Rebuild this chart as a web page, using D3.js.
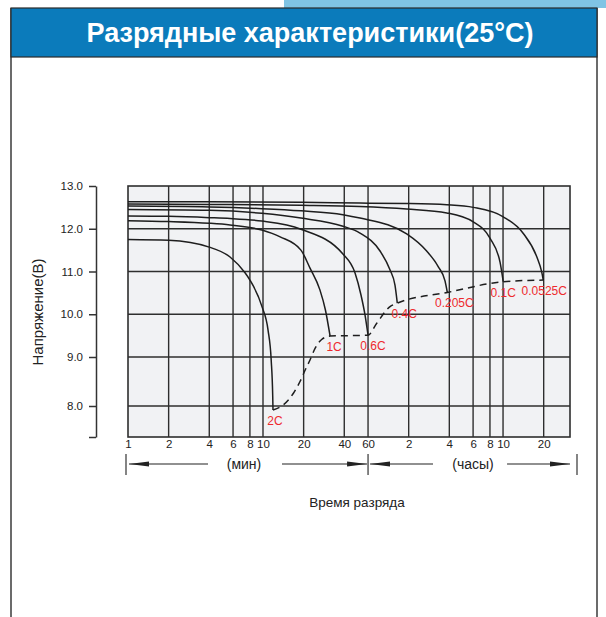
<!DOCTYPE html>
<html><head><meta charset="utf-8">
<script src="https://cdn.jsdelivr.net/npm/d3@7"></script>
<style>
body{margin:0;background:#fff;}
svg{display:block;font-family:"Liberation Sans",Arial,sans-serif;}
</style>
</head><body>
<svg id="chart" width="606" height="617"></svg>
<script>
// ---------- data ----------
const titleText = "Разрядные характеристики(25°C)";
const yAxisTitle = "Напряжение(В)";
const xAxisTitle = "Время разряда";
const minuteLabel = "(мин)";
const hourLabel = "(часы)";

// x ticks (values in minutes) and their printed labels
const xTickMinutes = [1,2,4,6,8,10,20,40,60,120,240,360,480,600,1200];
const xTickLabels  = ["1","2","4","6","8","10","20","40","60","2","4","6","8","10","20"];
const xDomain = [1, 1880];

// y ticks (volts)
const voltTicks = [8,9,10,11,12,13];
const voltBottom = 7.37;

// discharge rates
const rateLabels = ["2C","1C","0.6C","0.4C","0.205C","0.1C","0.0525C"];

// curves: time (minutes) / voltage (V)
const t2C = [1,2,4,5.7,7.36,8,9.8,10.9,11.5,11.8,11.86];
const v2C = [11.75,11.73,11.57,11.34,10.97,10.80,10.19,9.63,8.94,8.22,7.92];
const t1C = [1,2,4,5.7,9.8,13.4,19.1,22.3,26.4,29,31.4];
const v1C = [12.19,12.17,12.13,12.09,11.97,11.81,11.50,11.08,10.57,10.10,9.49];
const t06C = [1,2,4,5.7,9.8,19.1,39.1,48,53.2,57,60];
const v06C = [12.30,12.29,12.26,12.24,12.18,11.99,11.41,10.97,10.45,9.98,9.51];
const t04C = [1,4,9.8,19.1,39.1,52.3,73.6,87.2,95,98.8];
const v04C = [12.45,12.43,12.36,12.25,12.06,11.90,11.48,11.04,10.68,10.26];
const t0205C = [1,4,9.8,19.1,39.1,52.3,116,163,199,223,232];
const v0205C = [12.53,12.51,12.47,12.42,12.33,12.25,11.88,11.48,11.11,10.78,10.51];
const t01C = [1,4,19.1,52.3,116,230,361,480,570,602];
const v01C = [12.58,12.57,12.55,12.52,12.46,12.37,12.16,11.78,11.22,10.76];
const t00525C = [1,4,19.1,52.3,116,230,361,602,848,1065,1160,1192];
const v00525C = [12.63,12.63,12.62,12.60,12.59,12.56,12.50,12.28,11.89,11.35,10.99,10.80];

const curveTimes = [t2C,t1C,t06C,t04C,t0205C,t01C,t00525C];
const curveVolts = [v2C,v1C,v06C,v04C,v0205C,v01C,v00525C];

// end-of-discharge (dashed) line
const cutoffT = [11.86,14.1,16.8,18.8,20.5,22.3,24.3,27.2,31.4,60,69.6,87.3,98.8,232,602,1192];
const cutoffV = [7.92,8.02,8.26,8.50,8.73,8.94,9.20,9.41,9.49,9.51,9.79,10.18,10.26,10.51,10.76,10.80];

// ---------- layout ----------
const plot = {left:128, right:570, top:186, bottom:437};
const labelDx = [2,4,5,7,7,0,1];
const labelDy = 15;

const svg = d3.select("#chart");

// header
svg.append("rect").attr("x",284).attr("y",0).attr("width",322).attr("height",8).attr("fill","#80c4e4");
svg.append("line").attr("x1",11).attr("x2",11).attr("y1",8).attr("y2",617).attr("stroke","#3a3a3a").attr("stroke-width",1.5);
svg.append("line").attr("x1",597).attr("x2",597).attr("y1",8).attr("y2",617).attr("stroke","#3a3a3a").attr("stroke-width",1.5);
svg.append("rect").attr("x",11).attr("y",8).attr("width",586).attr("height",49)
  .attr("fill","#0b7bbb").attr("stroke","#2a2a2a").attr("stroke-width",1.2);
svg.append("text").attr("x",310).attr("y",42).attr("text-anchor","middle")
  .attr("fill","#fff").attr("font-weight","bold").attr("font-size",27).text(titleText);

// scales
const x = d3.scaleLog().domain(xDomain).range([plot.left, plot.right]);
const y = d3.scaleLinear().domain([voltBottom, 8, 9, 13]).range([plot.bottom, 406, 357, plot.top]);

// plot background
svg.append("rect").attr("x",plot.left).attr("y",plot.top)
  .attr("width",plot.right-plot.left).attr("height",plot.bottom-plot.top).attr("fill","#f1f2f4");

const gridColor = "#2e2e2e";
// vertical grid
svg.append("g").selectAll("line").data(xTickMinutes.slice(1)).join("line")
  .attr("x1",d=>x(d)).attr("x2",d=>x(d)).attr("y1",plot.top).attr("y2",plot.bottom)
  .attr("stroke",gridColor).attr("stroke-width",1.4);
// horizontal grid
svg.append("g").selectAll("line").data(voltTicks.filter(v=>v<13)).join("line")
  .attr("x1",plot.left).attr("x2",plot.right).attr("y1",d=>y(d)).attr("y2",d=>y(d))
  .attr("stroke",gridColor).attr("stroke-width",1.4);
// frame
svg.append("rect").attr("x",plot.left).attr("y",plot.top)
  .attr("width",plot.right-plot.left).attr("height",plot.bottom-plot.top)
  .attr("fill","none").attr("stroke",gridColor).attr("stroke-width",1.6);

// y axis
const yAxis = svg.append("g").attr("transform","translate(96,0)")
  .call(d3.axisLeft(y).tickValues([voltBottom, ...voltTicks]).tickSize(7).tickSizeOuter(0).tickPadding(6)
    .tickFormat(d => d < 8 ? "" : d3.format(".1f")(d)));
yAxis.selectAll("path,line").attr("stroke","#333").attr("stroke-width",1.5);
yAxis.selectAll("text").attr("font-size",11.5).attr("fill","#222").attr("font-family","Liberation Sans, Arial, sans-serif");

svg.append("text").attr("transform","translate(43,312) rotate(-90)")
  .attr("text-anchor","middle").attr("font-size",15).attr("fill","#222").text(yAxisTitle);

// x axis labels
const xAxis = svg.append("g").attr("transform",`translate(0,${plot.bottom})`)
  .call(d3.axisBottom(x).tickValues(xTickMinutes).tickSize(0).tickPadding(3)
    .tickFormat((d,i)=>xTickLabels[i]));
xAxis.select(".domain").remove();
xAxis.selectAll("text").attr("font-size",11.5).attr("fill","#222").attr("font-family","Liberation Sans, Arial, sans-serif");

// curves
const line = d3.line().x(d=>x(d[0])).y(d=>y(d[1])).curve(d3.curveMonotoneX);
const series = rateLabels.map((r,i)=>({rate:r, pts:curveTimes[i].map((t,j)=>[t,curveVolts[i][j]])}));
svg.append("g").selectAll("path").data(series).join("path")
  .attr("d",d=>line(d.pts)).attr("fill","none").attr("stroke","#1e1e1e").attr("stroke-width",1.5);

// cutoff dashed line
svg.append("path").attr("d",line(cutoffT.map((t,i)=>[t,cutoffV[i]])))
  .attr("fill","none").attr("stroke","#1e1e1e").attr("stroke-width",1.5).attr("stroke-dasharray","7,5");

// rate labels
svg.append("g").selectAll("text").data(series).join("text")
  .attr("x",(d,i)=>x(d.pts[d.pts.length-1][0])+labelDx[i])
  .attr("y",d=>y(d.pts[d.pts.length-1][1])+labelDy)
  .attr("text-anchor","middle").attr("font-size",12).attr("fill","#ee2a2e").text(d=>d.rate);

// unit arrows
const arrowY = 464;
svg.append("defs").append("marker").attr("id","ah").attr("viewBox","0 0 20 6")
  .attr("refX",20).attr("refY",3).attr("markerWidth",20).attr("markerHeight",6)
  .attr("markerUnits","userSpaceOnUse").attr("orient","auto")
  .append("path").attr("d","M0,0.5 L20,3 L0,5.5 Z").attr("fill","#222");
const barXs = [x(1)-2, x(60), plot.right+7];
svg.append("g").selectAll("line").data(barXs).join("line")
  .attr("x1",d=>d).attr("x2",d=>d).attr("y1",454).attr("y2",475)
  .attr("stroke","#333").attr("stroke-width",1.2);
const arrows = [[x(1)+80, x(1)+1],[x(1)+154, x(60)-1],[x(60)+65, x(60)+2],[x(60)+139, plot.right]];
svg.append("g").selectAll("line").data(arrows).join("line")
  .attr("x1",d=>d[0]).attr("x2",d=>d[1]).attr("y1",arrowY).attr("y2",arrowY)
  .attr("stroke","#222").attr("stroke-width",1.2).attr("marker-end","url(#ah)");
svg.append("text").attr("x",244).attr("y",469).attr("text-anchor","middle").attr("font-size",14).attr("fill","#222").text(minuteLabel);
svg.append("text").attr("x",473).attr("y",469).attr("text-anchor","middle").attr("font-size",14).attr("fill","#222").text(hourLabel);

svg.append("text").attr("x",357).attr("y",507).attr("text-anchor","middle").attr("font-size",13.5).attr("fill","#222").text(xAxisTitle);
</script>
</body></html>
